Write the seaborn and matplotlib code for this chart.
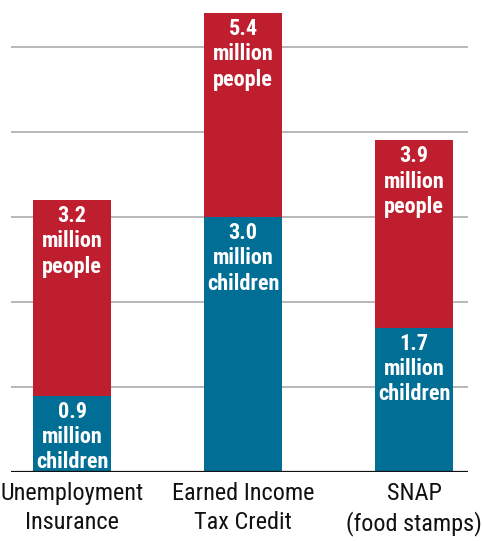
import matplotlib
matplotlib.use("Agg")
import matplotlib.pyplot as plt
import seaborn as sns
import pandas as pd

programs = ["Unemployment\nInsurance", "Earned Income\nTax Credit", "SNAP\n(food stamps)"]
people = [3.2, 5.4, 3.9]      # million people lifted
children = [0.9, 3.0, 1.7]    # million children lifted

RED = "#BE1E2D"
BLUE = "#006E95"
GRID = "#B2B2B6"

sns.set_theme(style="white")
plt.rcParams["font.family"] = ["Roboto Condensed", "Archivo Narrow", "DejaVu Sans"]

df = pd.DataFrame({"program": programs, "people": people, "children": children})

fig = plt.figure(figsize=(4.83, 5.41), dpi=100)
ax = fig.add_axes([11 / 483, (541 - 472) / 541, 457 / 483, 472 / 541])

sns.barplot(data=df, x="program", y="people", color=RED, width=0.456,
            saturation=1, linewidth=0, ax=ax, zorder=2)
sns.barplot(data=df, x="program", y="children", color=BLUE, width=0.456,
            saturation=1, linewidth=0, ax=ax, zorder=3)

ax.set_ylim(0, 472 / 85)
ax.set_xlim(-0.357, 2.316)
for v in [1, 2, 3, 4, 5]:
    ax.axhline(v, color=GRID, lw=1.3, zorder=1)
ax.axhline(0, color="#111111", lw=1.6, zorder=4)

for s in ax.spines.values():
    s.set_visible(False)
ax.set_yticks([])
ax.set_xlabel("")
ax.set_ylabel("")
ax.tick_params(axis="x", length=0, pad=7, labelsize=17.5, labelcolor="#111111")
for lbl in ax.get_xticklabels():
    lbl.set_linespacing(1.35)

for i, (p, c) in enumerate(zip(people, children)):
    ax.annotate(f"{p:.1f}\nmillion\npeople", (i, p), xytext=(0, -5),
                textcoords="offset pixels", ha="center", va="top",
                color="white", fontsize=16, fontweight="bold",
                linespacing=1.2, zorder=5)
    ax.annotate(f"{c:.1f}\nmillion\nchildren", (i, c), xytext=(0, -5),
                textcoords="offset pixels", ha="center", va="top",
                color="white", fontsize=16, fontweight="bold",
                linespacing=1.2, zorder=5)

fig.savefig("out.png", dpi=100)
